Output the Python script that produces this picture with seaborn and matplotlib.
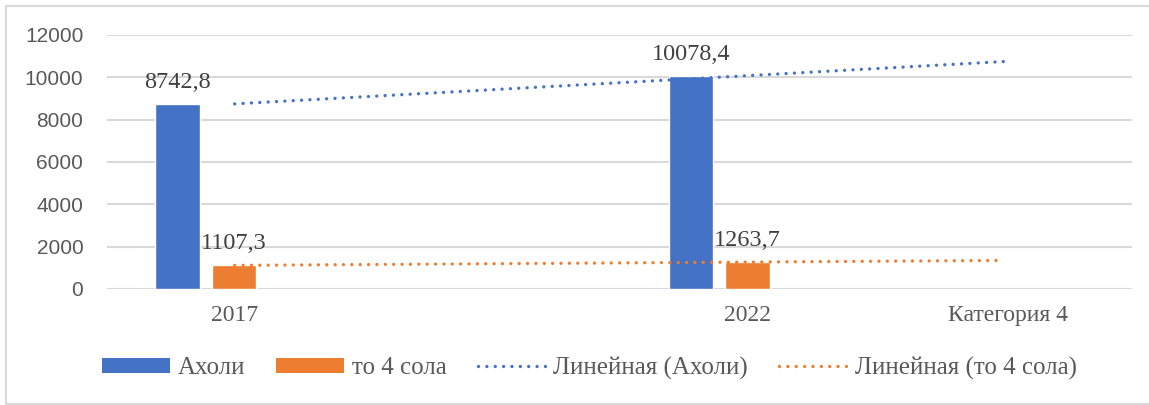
import numpy as np
import pandas as pd
import matplotlib
matplotlib.use("Agg")
import matplotlib.pyplot as plt
from matplotlib.lines import Line2D
from matplotlib.patches import Patch
import seaborn as sns

# ---- data -------------------------------------------------------------
categories = ["2017", "2022"]
extra_category = "Категория 4"
population = [8742.8, 10078.4]          # Ахоли
under_four = [1107.3, 1263.7]           # то 4 сола
series_names = ["Ахоли", "то 4 сола"]
trend_names = ["Линейная (Ахоли)", "Линейная (то 4 сола)"]
y_ticks = [0, 2000, 4000, 6000, 8000, 10000, 12000]

# ---- style ------------------------------------------------------------
BLUE = "#4472C4"
ORANGE = "#ED7D31"
GRID = "#D9D9D9"
TICK_GREY = "#595959"
LABEL_GREY = "#404040"

sns.set_theme(style="white")
plt.rcParams["font.family"] = ["Liberation Serif", "DejaVu Serif"]

idx = np.arange(len(categories))
df = pd.DataFrame({
    "pos": np.concatenate([idx, idx]),
    "value": population + under_four,
    "series": [series_names[0]] * len(idx) + [series_names[1]] * len(idx),
})

fig = plt.figure(figsize=(11.49, 4.05), dpi=100)
ax = fig.add_axes([0.0931, 0.2869, 0.8921, 0.6267])

sns.barplot(data=df, x="pos", y="value", hue="series", orient="x",
            native_scale=True, width=0.22, gap=0.21, errorbar=None,
            palette=[BLUE, ORANGE], saturation=1, legend=False, ax=ax,
            zorder=3)

# category labels sit a little right of each bar pair
label_shift = 0.056
trend_span = np.linspace(0, 1.5, 60)
dotted = (0, (0.01, 2.5))
for vals, color in [(population, BLUE), (under_four, ORANGE)]:
    coef = np.polyfit(idx, vals, 1)
    sns.lineplot(x=trend_span + label_shift, y=np.polyval(coef, trend_span),
                 ax=ax, color=color, linewidth=2.4, linestyle=dotted,
                 dash_capstyle="round", zorder=4, sort=False)

# value labels above each bar
for bar_group, vals in [(ax.containers[0], population),
                        (ax.containers[1], under_four)]:
    for rect, v in zip(bar_group, vals):
        ax.annotate(f"{v:.1f}".replace(".", ","),
                    (rect.get_x() + rect.get_width() / 2, v),
                    xytext=(0, 8), textcoords="offset points",
                    ha="center", va="bottom", fontsize=17.5,
                    color=LABEL_GREY, zorder=5)

# axes
ax.set_ylim(0, 12000)
ax.set_yticks(y_ticks)
ax.set_yticklabels([str(t) for t in y_ticks], family="Liberation Sans",
                   fontsize=15, color=TICK_GREY)
ax.set_xlim(-0.193, 1.805)
ax.set_xticks(list(idx + label_shift) + [1.563])
ax.set_xticklabels(categories + [extra_category], fontsize=17,
                   color=TICK_GREY)
ax.tick_params(axis="y", length=0, pad=17)
ax.tick_params(axis="x", length=0, pad=12)
ax.grid(axis="y", color=GRID, linewidth=1.5, zorder=0)
ax.set_axisbelow(True)
for s in ax.spines.values():
    s.set_visible(False)
ax.set_xlabel("")
ax.set_ylabel("")

# legend
handles = [
    Patch(facecolor=BLUE, edgecolor="none"),
    Patch(facecolor=ORANGE, edgecolor="none"),
    Line2D([], [], color=BLUE, linewidth=2.4, linestyle=dotted,
           dash_capstyle="round"),
    Line2D([], [], color=ORANGE, linewidth=2.4, linestyle=dotted,
           dash_capstyle="round"),
]
fig.legend(handles, series_names + trend_names, loc="center",
           bbox_to_anchor=(0.513, 0.091), ncol=4, frameon=False,
           fontsize=18, handlelength=2.7, handleheight=0.5,
           handletextpad=0.32, columnspacing=1.25, labelcolor=TICK_GREY)

# chart frame
frame_kw = dict(color=GRID, linewidth=1.5, transform=fig.transFigure)
fig.add_artist(Line2D([6 / 1149, 1], [1 - 6 / 405] * 2, **frame_kw))
fig.add_artist(Line2D([6 / 1149] * 2, [1 / 405, 1 - 6 / 405], **frame_kw))
fig.add_artist(Line2D([6 / 1149, 1], [1 / 405] * 2, **frame_kw))

fig.savefig("out.png", dpi=100, facecolor="white")
